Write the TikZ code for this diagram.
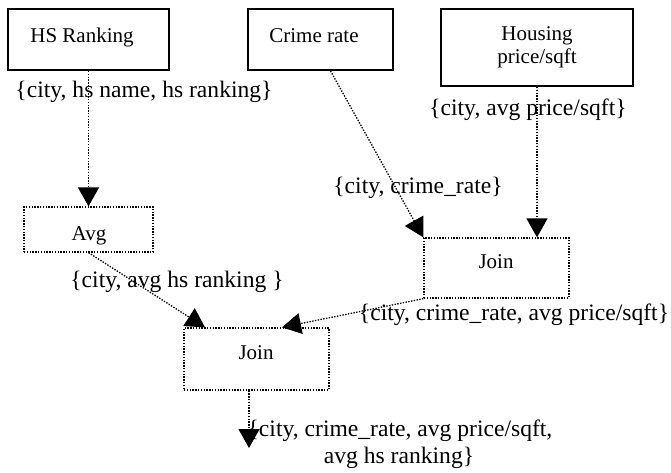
\documentclass[tikz,border=0pt]{standalone}
\usepackage{fontspec}
\setmainfont{Liberation Serif}
\usetikzlibrary{arrows.meta}
\begin{document}
\begin{tikzpicture}[x=1pt,y=-1pt,
  srcbox/.style={draw=black,line width=1.8pt,inner sep=0pt},
  opbox/.style={draw=black,line width=1.3pt,dash pattern=on 1.4pt off 1.4pt,inner sep=0pt},
  boxtext/.style={font=\fontsize{21}{26}\selectfont,inner sep=0pt,anchor=base},
  lbl/.style={font=\fontsize{23.6}{27}\selectfont,inner sep=0pt,anchor=base},
  flow/.style={line width=1.3pt,dash pattern=on 1.4pt off 1.4pt,-{Triangle[width=21pt,length=19pt]}}]
\useasboundingbox (0,0) rectangle (671,472);
% source boxes
\node[srcbox,minimum width=161pt,minimum height=61pt] (hs) at (88.5,39.5) {};
\node[boxtext] (hst) at (82,42) {HS Ranking};
\node[srcbox,minimum width=145pt,minimum height=61pt] (crime) at (320.5,39.5) {};
\node[boxtext] (crt) at (314,42) {Crime rate};
\node[srcbox,minimum width=192pt,minimum height=77pt] (house) at (537,47.5) {};
\node[boxtext] (ht1) at (537,40) {Housing};
\node[boxtext] (ht2) at (537,63) {price/sqft};
% operator boxes
\node[opbox,minimum width=129pt,minimum height=45pt] (avg) at (88.5,229.5) {};
\node[boxtext] (avgt) at (89,240) {Avg};
\node[opbox,minimum width=145pt,minimum height=60pt] (j1) at (496.5,268) {};
\node[boxtext] (j1t) at (496,268) {Join};
\node[opbox,minimum width=145pt,minimum height=62pt] (j2) at (256.5,359) {};
\node[boxtext] (j2t) at (256,359) {Join};
\coordinate (out) at (249,448);
% connectors
\draw[flow] (hs.south) -- (avg.north);
\draw[flow] ([xshift=10pt]crime.south) -- (j1.north west);
\draw[flow] (house.south) -- ([xshift=40.5pt]j1.north);
\draw[flow] (avg.south) -- ([xshift=-51.5pt]j2.north);
\draw[flow] (j1.south west) -- ([xshift=25.5pt]j2.north);
\draw[flow] ([xshift=-7.5pt]j2.south) -- (out);
% labels
\node[lbl] (l1) at (144,97) {\{city, hs name, hs ranking\}};
\node[lbl] (l2) at (528,115) {\{city, avg price/sqft\}};
\node[lbl] (l3) at (418,193) {\{city, crime\_rate\}};
\node[lbl] (l4) at (177,287) {\{city, avg hs ranking \}};
\node[lbl] (l5) at (514,320) {\{city, crime\_rate, avg price/sqft\}};
\node[lbl] (l6) at (400,436) {\{city, crime\_rate, avg price/sqft,};
\node[lbl] (l7) at (399,463) {avg hs ranking\}};
\end{tikzpicture}
\end{document}
